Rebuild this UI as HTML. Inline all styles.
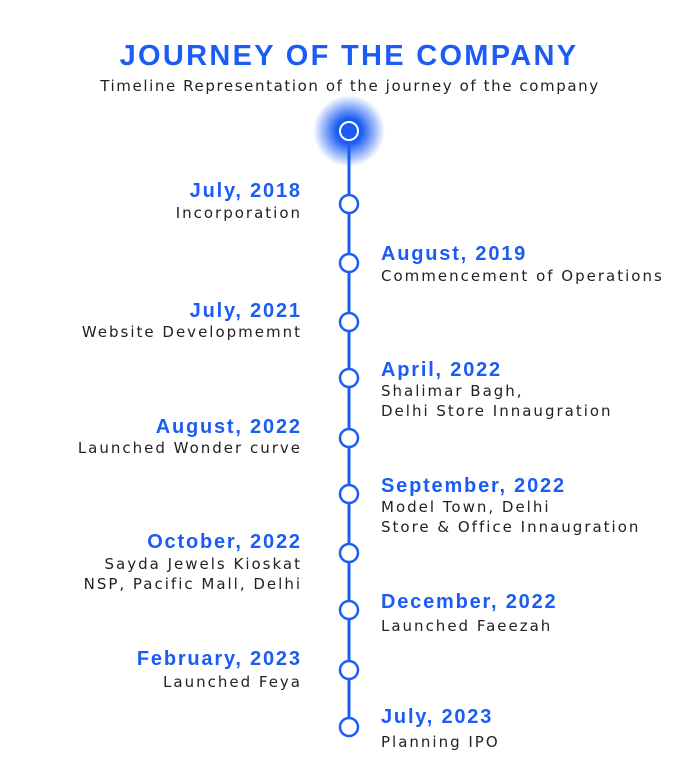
<!DOCTYPE html>
<html><head><style>
body{margin:0;width:676px;height:776px;background:#fff;position:relative;overflow:hidden;font-family:"Liberation Sans",sans-serif}
.t{position:absolute;white-space:nowrap;line-height:20px}
.d{color:#1a5cf5;font-weight:bold;font-size:20px;letter-spacing:1.8px}
.s{color:#222;font-size:15px;font-family:"DejaVu Sans",sans-serif;letter-spacing:2px}
.l{right:376px;text-align:right}
.r{left:381px}
.l.d{margin-right:-1.8px}
.l.s{margin-right:-2px}
</style></head><body>
<div class="t" style="left:0;width:698px;text-align:center;top:40px;font-size:29px;font-weight:bold;color:#1a5cf5;line-height:32px;letter-spacing:2.3px">JOURNEY OF THE COMPANY</div>
<div class="t s" style="left:0;width:700px;text-align:center;top:76px;font-size:15px;letter-spacing:1.6px">Timeline Representation of the journey of the company</div>
<svg style="position:absolute;left:0;top:0" width="676" height="776">
<defs><radialGradient id="g"><stop offset="0.35" stop-color="#1a5cf5"/><stop offset="1" stop-color="#1a5cf5" stop-opacity="0"/></radialGradient></defs>
<circle cx="349" cy="131" r="36" fill="url(#g)"/>
<line x1="349" y1="131" x2="349" y2="727" stroke="#1a5cf5" stroke-width="3"/>
<circle cx="349" cy="131" r="9" fill="#1a5cf5" stroke="#fff" stroke-width="2"/>
<g fill="#fff" stroke="#1a5cf5" stroke-width="2.5">
<circle cx="349" cy="204" r="9"/><circle cx="349" cy="263" r="9"/><circle cx="349" cy="322" r="9"/><circle cx="349" cy="378" r="9"/><circle cx="349" cy="438" r="9"/><circle cx="349" cy="494" r="9"/><circle cx="349" cy="553" r="9"/><circle cx="349" cy="610" r="9"/><circle cx="349" cy="670" r="9"/><circle cx="349" cy="727" r="9"/>
</g></svg>
<div class="t d l" style="top:181px">July, 2018</div><div class="t s l" style="top:203px">Incorporation</div>
<div class="t d r" style="top:244px">August, 2019</div><div class="t s r" style="top:266px">Commencement of Operations</div>
<div class="t d l" style="top:301px">July, 2021</div><div class="t s l" style="top:322px">Website Developmemnt</div>
<div class="t d r" style="top:360px">April, 2022</div><div class="t s r" style="top:381px">Shalimar Bagh,<br>Delhi Store Innaugration</div>
<div class="t d l" style="top:417px">August, 2022</div><div class="t s l" style="top:438px">Launched Wonder curve</div>
<div class="t d r" style="top:476px">September, 2022</div><div class="t s r" style="top:497px">Model Town, Delhi<br>Store &amp; Office Innaugration</div>
<div class="t d l" style="top:532px">October, 2022</div><div class="t s l" style="top:554px">Sayda Jewels Kioskat<br>NSP, Pacific Mall, Delhi</div>
<div class="t d r" style="top:592px">December, 2022</div><div class="t s r" style="top:616px">Launched Faeezah</div>
<div class="t d l" style="top:649px">February, 2023</div><div class="t s l" style="top:672px">Launched Feya</div>
<div class="t d r" style="top:707px">July, 2023</div><div class="t s r" style="top:732px">Planning IPO</div>
</body></html>
